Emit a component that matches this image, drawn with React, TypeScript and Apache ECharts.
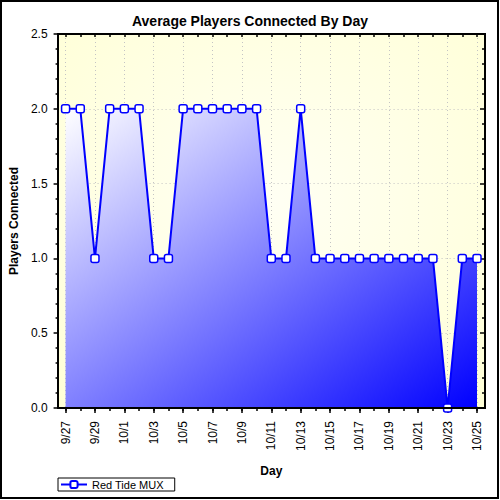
import React, { useEffect, useRef } from "react";
import * as echarts from "echarts";

const days = [
  "9/27", "9/28", "9/29", "9/30", "10/1", "10/2", "10/3", "10/4", "10/5", "10/6",
  "10/7", "10/8", "10/9", "10/10", "10/11", "10/12", "10/13", "10/14", "10/15", "10/16",
  "10/17", "10/18", "10/19", "10/20", "10/21", "10/22", "10/23", "10/24", "10/25",
];
const players = [
  2, 2, 1, 2, 2, 2, 1, 1, 2, 2,
  2, 2, 2, 2, 1, 1, 2, 1, 1, 1,
  1, 1, 1, 1, 1, 1, 0, 1, 1,
];
const seriesName = "Red Tide MUX";
const titleText = "Average Players Connected By Day";
const xName = "Day";
const yName = "Players Connected";

const FONT = "'Liberation Sans', Arial, sans-serif";

export default function App() {
  const ref = useRef<HTMLDivElement>(null);

  useEffect(() => {
    if (!ref.current) return;
    const chart = echarts.init(ref.current, null, { renderer: "svg" });
    const dotted = { color: "#c4c4c4", width: 1, type: [1, 3] as number[] };
    const black = { color: "#000", width: 1.5 };
    const option: any = {
      animation: false,
      backgroundColor: "#ffffff",
      textStyle: { fontFamily: FONT },
      title: {
        text: titleText,
        left: "center",
        top: 9,
        textStyle: { fontSize: 14, fontWeight: "bold", color: "#000", fontFamily: FONT },
      },
      legend: {
        left: 58,
        top: 478,
        borderColor: "#000",
        borderWidth: 1,
        borderRadius: 0,
        padding: [1, 11, 1, 2],
        itemWidth: 26,
        itemHeight: 9,
        textStyle: { fontSize: 11, color: "#000", fontFamily: FONT },
        data: [seriesName],
      },
      grid: { left: 65, right: 23, top: 34, bottom: 92, containLabel: false },
      graphic: [
        {
          type: "rect",
          z: -1,
          silent: true,
          shape: { x: 58, y: 34, width: 427, height: 374 },
          style: {
            fill: new echarts.graphic.RadialGradient(0.5, 0.45, 0.75, [
              { offset: 0, color: "#fffff4" },
              { offset: 1, color: "#ffffd6" },
            ]),
          },
        },
        {
          type: "rect",
          z: 10,
          silent: true,
          shape: { x: 58, y: 34, width: 427, height: 374 },
          style: { fill: "none", stroke: "#000", lineWidth: 2 },
        },
        {
          type: "rect",
          z: 10,
          silent: true,
          shape: { x: 1, y: 1, width: 497, height: 497 },
          style: { fill: "none", stroke: "#000", lineWidth: 2 },
        },
      ],
      xAxis: [
        {
          type: "category",
          data: days,
          boundaryGap: false,
          position: "bottom",
          axisLine: { show: false, onZero: false },
          axisTick: { show: true, interval: 1, length: 5, lineStyle: black },
          axisLabel: { interval: 1, rotate: 90, margin: 13, fontSize: 12, color: "#000", fontFamily: FONT },
          splitLine: { show: true, interval: 1, lineStyle: dotted },
          name: xName,
          nameLocation: "middle",
          nameGap: 57,
          nameTextStyle: { fontWeight: "bold", fontSize: 12, color: "#000", fontFamily: FONT },
        },
        {
          type: "category",
          data: days,
          boundaryGap: false,
          position: "bottom",
          axisLine: { show: false, onZero: false },
          axisTick: { show: true, interval: 0, length: 3, lineStyle: black },
          axisLabel: { show: false },
          splitLine: { show: false },
        },
        {
          type: "category",
          data: days,
          boundaryGap: false,
          position: "top",
          axisLine: { show: false, onZero: false },
          axisTick: { show: true, interval: 0, inside: true, length: 3, lineStyle: black },
          axisLabel: { show: false },
          splitLine: { show: false },
        },
      ],
      yAxis: [
        {
          type: "value",
          min: 0,
          max: 2.5,
          interval: 0.5,
          position: "left",
          offset: 7,
          axisLine: { show: false, onZero: false },
          axisTick: { show: true, length: 5, lineStyle: black },
          minorTick: { show: true, splitNumber: 5, length: 3, lineStyle: black },
          axisLabel: {
            formatter: (v: number) => v.toFixed(1),
            margin: 11,
            fontSize: 12,
            color: "#000",
            fontFamily: FONT,
          },
          splitLine: { show: true, lineStyle: dotted },
          name: yName,
          nameLocation: "middle",
          nameGap: 35,
          nameRotate: 90,
          nameTextStyle: { fontWeight: "bold", fontSize: 12, color: "#000", fontFamily: FONT },
        },
        {
          type: "value",
          min: 0,
          max: 2.5,
          interval: 0.5,
          position: "right",
          offset: 8,
          axisLine: { show: false, onZero: false },
          axisTick: { show: true, inside: true, length: 5, lineStyle: black },
          minorTick: { show: true, splitNumber: 5, length: 3, lineStyle: black },
          axisLabel: { show: false },
          splitLine: { show: false },
        },
      ],
      series: [
        {
          type: "line",
          name: seriesName,
          data: players,
          xAxisIndex: 0,
          yAxisIndex: 0,
          symbol: "roundRect",
          symbolSize: 8,
          showAllSymbol: true,
          lineStyle: { color: "#0000ff", width: 2 },
          itemStyle: { color: "#ffffff", borderColor: "#0000ff", borderWidth: 1.5 },
          areaStyle: {
            opacity: 1,
            color: new echarts.graphic.LinearGradient(0, 0, 1, 1, [
              { offset: 0, color: "#ffffff" },
              { offset: 1, color: "#0000ff" },
            ]),
          },
        },
      ],
    };
    chart.setOption(option);
    return () => chart.dispose();
  }, []);

  return (
    <div
      ref={ref}
      style={{ position: "absolute", left: 0, top: 0, width: 500, height: 500 }}
    />
  );
}
